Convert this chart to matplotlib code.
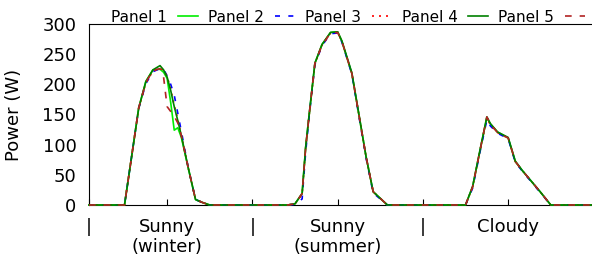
import matplotlib
matplotlib.use("Agg")
import matplotlib.pyplot as plt

# sample times (hours, three days back to back)
hours = [1, 2, 3, 4, 5, 6, 7, 8, 9, 10, 11, 11.5, 12, 12.5, 13, 13.5, 14, 15, 16, 17, 18, 19, 20, 21, 22, 23, 24,
         25, 26, 27, 28, 29, 30, 31, 31.5, 32, 32.8, 33.8, 35, 36, 36.6, 38, 39.2, 40, 41, 43, 44, 45, 46, 47, 48,
         49, 50, 51, 52, 53, 54, 55, 56, 57, 57.5, 58.5, 60, 61, 62, 64.5, 66, 67, 68, 69, 70, 71, 72]

panel1 = [0, 0, 0, 0, 0, 0, 80, 160, 205, 224, 225, 220, 210, 170, 124, 128, 112, 60, 9, 4, 0, 0, 0, 0, 0, 0, 0,
          0, 0, 0, 0, 0, 2, 19, 96, 150, 235, 266, 286, 287, 271, 218, 135, 80, 22, 0, 0, 0, 0, 0, 0,
          0, 0, 0, 0, 0, 0, 30, 88, 145, 134, 121, 111, 72, 57, 22, 0, 0, 0, 0, 0, 0, 0]
panel2 = [0, 0, 0, 0, 0, 0, 80, 160, 201, 221, 226, 225, 214, 200, 182, 152, 122, 60, 9, 4, 0, 0, 0, 0, 0, 0, 0,
          0, 0, 0, 0, 0, 1, 10, 88, 148, 233, 264, 284, 285, 270, 217, 133, 78, 20, 0, 0, 0, 0, 0, 0,
          0, 0, 0, 0, 0, 0, 28, 86, 141, 131, 119, 110, 71, 56, 21, 0, 0, 0, 0, 0, 0, 0]
panel3 = [0, 0, 0, 0, 0, 0, 80, 161, 202, 222, 226, 224, 213, 192, 165, 142, 115, 60, 9, 4, 0, 0, 0, 0, 0, 0, 0,
          0, 0, 0, 0, 0, 2, 18, 95, 150, 234, 265, 285, 286, 271, 218, 135, 80, 22, 0, 0, 0, 0, 0, 0,
          0, 0, 0, 0, 0, 0, 30, 88, 144, 133, 120, 111, 72, 57, 22, 0, 0, 0, 0, 0, 0, 0]
panel4 = [0, 0, 0, 0, 0, 0, 80, 161, 204, 224, 231, 224, 212, 190, 163, 140, 115, 60, 9, 4, 0, 0, 0, 0, 0, 0, 0,
          0, 0, 0, 0, 0, 2, 19, 96, 151, 235, 266, 286, 287, 272, 219, 136, 80, 22, 0, 0, 0, 0, 0, 0,
          0, 0, 0, 0, 0, 0, 31, 89, 146, 135, 121, 112, 73, 57, 22, 0, 0, 0, 0, 0, 0, 0]
panel5 = [0, 0, 0, 0, 0, 0, 80, 161, 203, 223, 226, 212, 163, 155, 147, 136, 115, 60, 9, 4, 0, 0, 0, 0, 0, 0, 0,
          0, 0, 0, 0, 0, 2, 19, 95, 150, 235, 265, 285, 286, 271, 218, 135, 80, 22, 0, 0, 0, 0, 0, 0,
          0, 0, 0, 0, 0, 0, 30, 88, 146, 134, 120, 111, 72, 57, 22, 0, 0, 0, 0, 0, 0, 0]

tick_pos = [1, 12, 24, 36, 48, 60]
tick_labels = ['|', 'Sunny\n(winter)', '|', 'Sunny\n(summer)', '|', 'Cloudy']
y_ticks = [0, 50, 100, 150, 200, 250, 300]

fig = plt.figure(figsize=(5.92, 2.61), dpi=100)
ax = fig.add_axes([0.1503, 0.2146, 0.8497, 0.6935])

styles = [
    ('Panel 1', panel1, dict(color='#00ee00', linestyle='-')),
    ('Panel 2', panel2, dict(color='#0000ff', dashes=(3, 5))),
    ('Panel 3', panel3, dict(color='#ff0000', dashes=(1.2, 3))),
    ('Panel 4', panel4, dict(color='#008000', linestyle='-')),
    ('Panel 5', panel5, dict(color='#b22222', dashes=(4, 4.8))),
]
for name, vals, st in styles:
    ax.plot(hours, vals, label=name, lw=1.2, clip_on=False, zorder=3, **st)

ax.set_xlim(1, 71.8)
ax.set_ylim(0, 300)
ax.set_yticks(y_ticks)
ax.set_xticks(tick_pos)
ax.set_xticklabels(tick_labels, fontsize=13)
for lab in ax.get_xticklabels():
    lab.set_linespacing(1.1)
ax.tick_params(axis='y', length=0, pad=9, labelsize=13)
ax.tick_params(axis='x', direction='in', length=4, pad=9.5)
ax.spines['right'].set_visible(False)
ax.set_ylabel('Power (W)', fontsize=13)
ax.yaxis.set_label_coords(-0.131, 0.5)

ax.legend(ncol=5, frameon=False, markerfirst=False, fontsize=11,
          handlelength=1.3, handletextpad=0.72, columnspacing=0.65,
          loc='lower right', bbox_to_anchor=(0.992, 0.98), borderaxespad=0,
          borderpad=0.2)

fig.savefig('out.png', dpi=100)
